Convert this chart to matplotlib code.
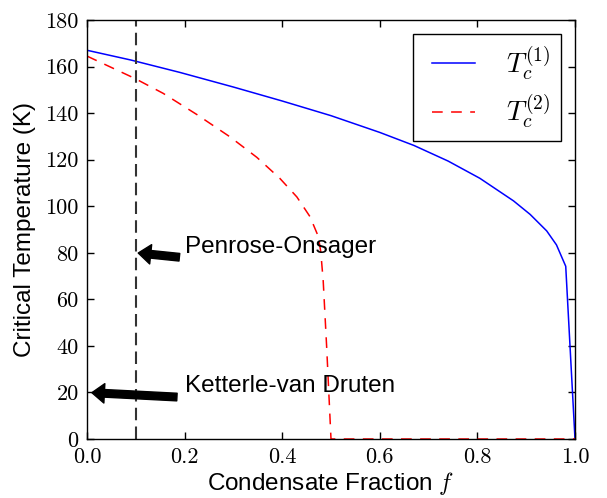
import matplotlib
matplotlib.use("Agg")
import matplotlib.pyplot as plt

plt.rcParams['mathtext.fontset'] = 'cm'
plt.rcParams['axes.unicode_minus'] = False
plt.rcParams['font.family'] = ['Liberation Sans', 'DejaVu Sans']

# Data
f1 = [0.0, 0.09, 0.19, 0.3, 0.4, 0.5, 0.6, 0.67, 0.74, 0.805, 0.874, 0.908, 0.942, 0.962, 0.981, 1.0]
T1 = [167.0, 162.8, 157.5, 151.2, 145.2, 138.9, 131.7, 126.1, 119.4, 112.0, 102.3, 96.5, 89.4, 83.4, 74.2, 0.0]

f2 = [0.0, 0.098, 0.156, 0.225, 0.293, 0.348, 0.395, 0.43, 0.457, 0.474, 0.479, 0.484, 0.491, 0.5, 1.0]
T2 = [164.5, 154.9, 148.5, 139.4, 129.8, 121.0, 112.0, 104.0, 95.5, 87.0, 80.5, 68.0, 40.0, 0.0, 0.0]

labels = [r'$T_c^{(1)}$', r'$T_c^{(2)}$']
f_marker = 0.1
xticks = [0.0, 0.2, 0.4, 0.6, 0.8, 1.0]
yticks = [0, 20, 40, 60, 80, 100, 120, 140, 160, 180]
annotations = [('Penrose-Onsager', (0.1, 80), (0.2, 80)),
               ('Ketterle-van Druten', (0.0, 20), (0.2, 20))]

fig = plt.figure(figsize=(6.07, 4.98), dpi=100)
ax = fig.add_axes([87/607, 59/498, 488/607, 419/498])

ax.plot(f1, T1, color='b', lw=1.1, label=labels[0])
ax.plot(f2, T2, color='r', lw=1.1, dashes=(7, 5.5), label=labels[1])
ax.axvline(f_marker, color='0.2', lw=1.5, dashes=(6, 3))

for text, xy, xyt in annotations:
    ax.annotate(text, xy=xy, xytext=xyt, fontsize=17.5,
                arrowprops=dict(facecolor='black', shrink=0.05, width=5.5, headwidth=14, headlength=9))

ax.set_xlim(0, 1)
ax.set_ylim(0, 180)
ax.set_xticks(xticks)
ax.set_yticks(yticks)
ax.set_xticklabels(['%.1f' % v for v in xticks], fontfamily='cmr10', fontsize=16)
ax.set_yticklabels(['%d' % v for v in yticks], fontfamily='cmr10', fontsize=16)
ax.tick_params(direction='in', top=True, right=True, length=5, width=1, pad=6)
for s in ax.spines.values():
    s.set_linewidth(1.0)

ax.set_xlabel(r'Condensate Fraction $f$', fontsize=17.5, labelpad=2)
ax.set_ylabel('Critical Temperature (K)', fontsize=17.5, labelpad=7)

leg = ax.legend(loc='upper right', fontsize=20, numpoints=2, handlelength=2.15,
                fancybox=False, framealpha=1, edgecolor='black', borderaxespad=0.5,
                borderpad=0.4, labelspacing=0.4, handletextpad=0.8)
leg.get_frame().set_linewidth(1.0)

fig.savefig('out.png', dpi=100)
